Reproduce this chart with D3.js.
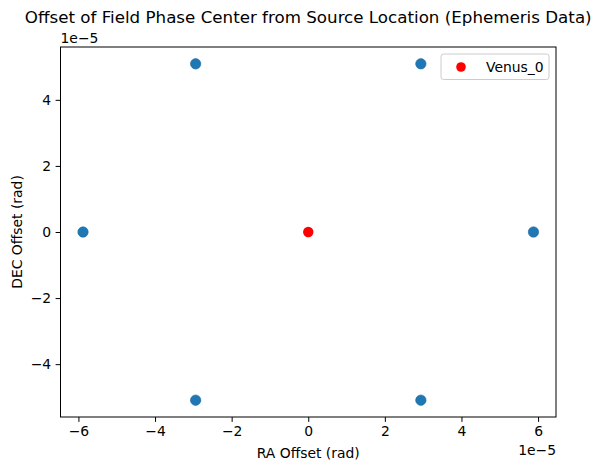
<!DOCTYPE html>
<html>
<head>
<meta charset="utf-8">
<script src="https://d3js.org/d3.v7.min.js"></script>
<style>
  body { margin: 0; background: #fff; }
  svg { font-family: "DejaVu Sans", sans-serif; }
</style>
</head>
<body>
<svg id="chart"></svg>
<script>
// field centers (rad)
const fieldRA  = [-5.88e-5, -2.94e-5, -2.94e-5, 2.94e-5, 2.94e-5, 5.88e-5];
const fieldDEC = [0, 5.09e-5, -5.09e-5, 5.09e-5, -5.09e-5, 0];
// source
const sourceRA = [0];
const sourceDEC = [0];
const sourceName = "Venus_0";
const xTicks = [-6e-5, -4e-5, -2e-5, 0, 2e-5, 4e-5, 6e-5];
const yTicks = [-4e-5, -2e-5, 0, 2e-5, 4e-5];

const config = {
  width: 599, height: 470,
  margin: { top: 47, bottom: 53, left: 60.5, right: 43 }
};
const w = config.width - config.margin.left - config.margin.right;
const h = config.height - config.margin.top - config.margin.bottom;

const svg = d3.select('#chart')
  .attr('width', config.width)
  .attr('height', config.height);

const chart = svg.append('g')
  .attr('transform', `translate(${config.margin.left},${config.margin.top})`);

// matplotlib style 5% margins
const xPad = (d3.max(fieldRA) - d3.min(fieldRA)) * 0.05;
const yPad = (d3.max(fieldDEC) - d3.min(fieldDEC)) * 0.05;
const xScale = d3.scaleLinear()
  .domain([d3.min(fieldRA) - xPad, d3.max(fieldRA) + xPad])
  .range([0, w]);
const yScale = d3.scaleLinear()
  .domain([d3.min(fieldDEC) - yPad, d3.max(fieldDEC) + yPad])
  .range([h, 0]);

const fmt = v => {
  const n = Math.round(v / 1e-5);
  return n < 0 ? '\u2212' + Math.abs(n) : String(n);
};

const xAxis = d3.axisBottom(xScale).tickValues(xTicks).tickFormat(fmt)
  .tickSizeInner(4.9).tickSizeOuter(0).tickPadding(4.5);
const yAxis = d3.axisLeft(yScale).tickValues(yTicks).tickFormat(fmt)
  .tickSizeInner(4.9).tickSizeOuter(0).tickPadding(4.5);

const xg = chart.append('g').attr('transform', `translate(0,${h})`).call(xAxis);
const yg = chart.append('g').call(yAxis);
[xg, yg].forEach(g => {
  g.select('.domain').remove();
  g.selectAll('text').style('font-size', '13.9px').attr('fill', '#000')
    .style('font-family', '"DejaVu Sans", sans-serif');
  g.selectAll('line').attr('stroke', '#000').attr('stroke-width', 1);
});

// points
const fields = fieldRA.map((ra, i) => ({ ra: ra, dec: fieldDEC[i] }));
chart.selectAll('.field')
  .data(fields)
  .join('circle')
    .attr('class', 'field')
    .attr('cx', d => xScale(d.ra))
    .attr('cy', d => yScale(d.dec))
    .attr('r', 5.2)
    .attr('fill', '#1f77b4')
    .attr('stroke', '#1a6aa2')
    .attr('stroke-width', 0.6);

const src = sourceRA.map((ra, i) => ({ ra: ra, dec: sourceDEC[i] }));
chart.selectAll('.src')
  .data(src)
  .join('circle')
    .attr('class', 'src')
    .attr('cx', d => xScale(d.ra))
    .attr('cy', d => yScale(d.dec))
    .attr('r', 5.2)
    .attr('fill', 'red');

// frame
chart.append('rect')
  .attr('width', w).attr('height', h)
  .attr('fill', 'none').attr('stroke', '#000').attr('stroke-width', 1);

// title
svg.append('text')
  .attr('x', config.margin.left + w / 2)
  .attr('y', 23)
  .attr('text-anchor', 'middle')
  .style('font-size', '16.7px')
  .text('Offset of Field Phase Center from Source Location (Ephemeris Data)');

// offset texts
svg.append('text')
  .attr('x', config.margin.left)
  .attr('y', 42.5)
  .style('font-size', '13.9px')
  .text('1e\u22125');
svg.append('text')
  .attr('x', config.margin.left + w)
  .attr('y', 455)
  .attr('text-anchor', 'end')
  .style('font-size', '13.9px')
  .text('1e\u22125');

// axis labels
svg.append('text')
  .attr('x', config.margin.left + w / 2)
  .attr('y', 457.5)
  .attr('text-anchor', 'middle')
  .style('font-size', '13.9px')
  .text('RA Offset (rad)');
svg.append('text')
  .attr('transform', `translate(22,${config.margin.top + h / 2}) rotate(-90)`)
  .attr('text-anchor', 'middle')
  .style('font-size', '13.9px')
  .text('DEC Offset (rad)');

// legend
const leg = svg.append('g').attr('transform', 'translate(441,54)');
leg.append('rect')
  .attr('width', 108).attr('height', 25.5).attr('rx', 2.5)
  .attr('fill', '#fff').attr('fill-opacity', 0.8)
  .attr('stroke', '#ccc').attr('stroke-width', 1);
leg.append('circle')
  .attr('cx', 20).attr('cy', 13).attr('r', 4.8).attr('fill', 'red');
leg.append('text')
  .attr('x', 45).attr('y', 18)
  .style('font-size', '13.9px')
  .text(sourceName);
</script>
</body>
</html>
